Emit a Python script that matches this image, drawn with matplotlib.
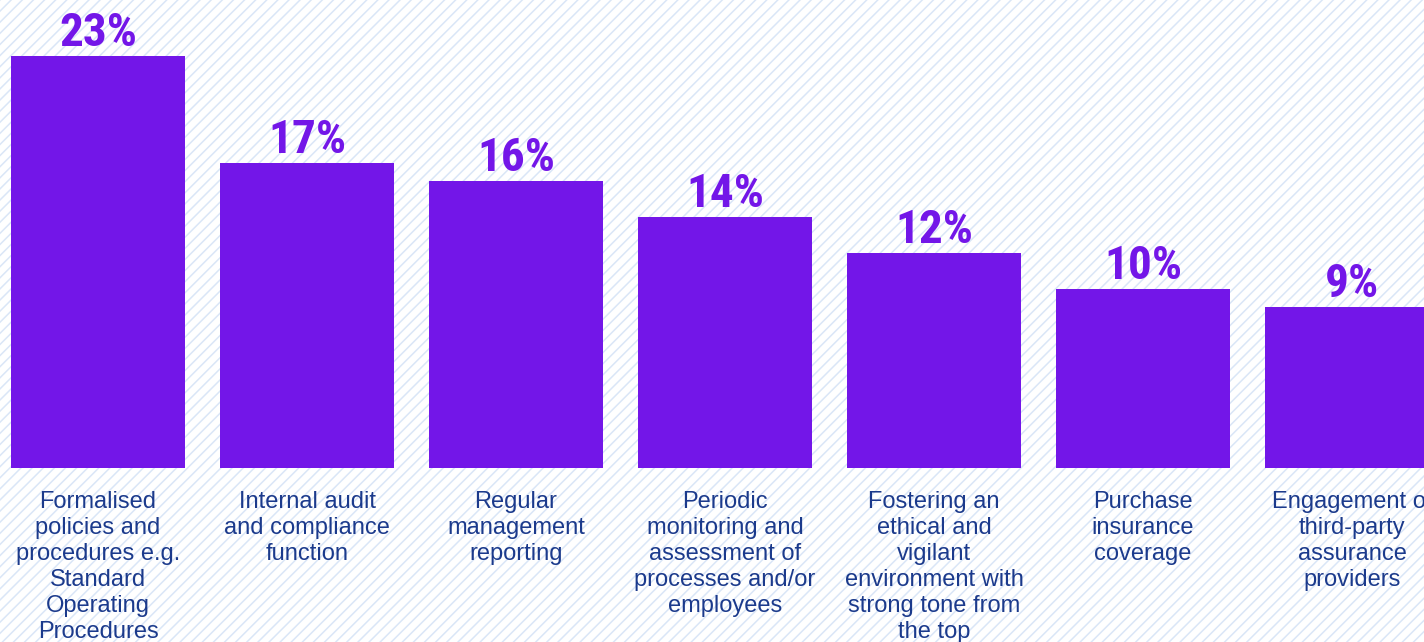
import matplotlib
matplotlib.use("Agg")
import matplotlib.pyplot as plt
from matplotlib.patches import Rectangle
from matplotlib import font_manager

categories = [
    "Formalised\npolicies and\nprocedures e.g.\nStandard\nOperating\nProcedures",
    "Internal audit\nand compliance\nfunction",
    "Regular\nmanagement\nreporting",
    "Periodic\nmonitoring and\nassessment of\nprocesses and/or\nemployees",
    "Fostering an\nethical and\nvigilant\nenvironment with\nstrong tone from\nthe top",
    "Purchase\ninsurance\ncoverage",
    "Engagement of\nthird-party\nassurance\nproviders",
]
values = [23, 17, 16, 14, 12, 10, 9]

BAR = "#7316E8"
TEXT = "#1B3A8C"
STRIPE = "#DAE6F7"

plt.rcParams["hatch.linewidth"] = 1.1

# pick a narrow face for the percentages if one is around
names = {f.name for f in font_manager.fontManager.ttflist}
narrow = [n for n in ["Liberation Sans Narrow", "Roboto Condensed",
                      "Open Sans Condensed", "DejaVu Sans Condensed"] if n in names]
pct_family = narrow[0] if narrow else "DejaVu Sans"

fig = plt.figure(figsize=(14.24, 6.42), dpi=100)

# striped backdrop over the whole figure
bg = fig.add_axes([0, 0, 1, 1])
bg.set_axis_off()
bg.add_patch(Rectangle((0, 0), 1, 1, transform=bg.transAxes,
                       facecolor="white", edgecolor=STRIPE, linewidth=0,
                       hatch="///"))

ax = fig.add_axes([0, 174 / 642, 1, 468 / 642])
ax.patch.set_alpha(0)
x = list(range(len(values)))
bars = ax.bar(x, values, width=0.833, color=BAR)
ax.set_xlim(-0.469, 6.344)
ax.set_ylim(0, 26.1)
ax.set_axis_off()

for xi, v in zip(x, values):
    ax.annotate(f"{v}%", (xi, v), xytext=(0, 10), textcoords="offset pixels",
                ha="center", va="baseline", color=BAR, fontsize=34,
                fontweight="bold", family=pct_family, fontstretch="condensed")

for xi, lab in zip(x, categories):
    ax.annotate(lab, (xi, 0), xytext=(0, -23), textcoords="offset pixels",
                ha="center", va="top", color=TEXT, fontsize=17,
                family="Liberation Sans", linespacing=1.23,
                annotation_clip=False)

fig.savefig("out.png", dpi=100)
